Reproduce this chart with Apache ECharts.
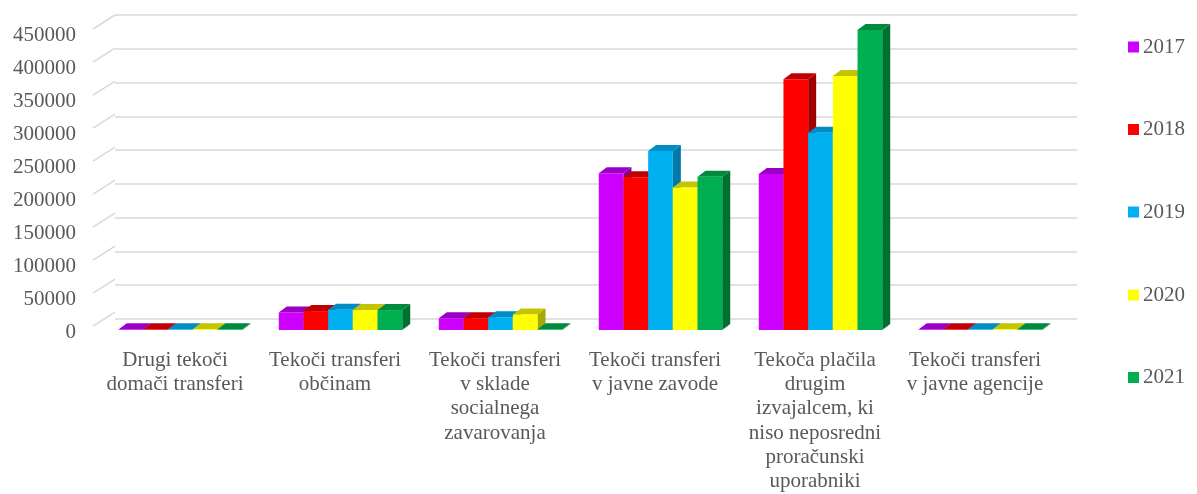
<!DOCTYPE html>
<html>
<head>
<meta charset="utf-8">
<script src="https://cdn.jsdelivr.net/npm/echarts@6/dist/echarts.min.js"></script>
<style>html,body{margin:0;padding:0;background:#fff;}#c{width:1197px;height:494px;}</style>
</head>
<body>
<div id="c"></div>
<script>
const categories = [
  "Drugi tekoči\ndomači transferi",
  "Tekoči transferi\nobčinam",
  "Tekoči transferi\nv sklade\nsocialnega\nzavarovanja",
  "Tekoči transferi\nv javne zavode",
  "Tekoča plačila\ndrugim\nizvajalcem, ki\nniso neposredni\nproračunski\nuporabniki",
  "Tekoči transferi\nv javne agencije"
];
const years = ["2017", "2018", "2019", "2020", "2021"];
const v2017 = [1000, 26000, 17500, 232000, 231000, 1000];
const v2018 = [1000, 28000, 17500, 226000, 371000, 1000];
const v2019 = [1000, 30000, 19000, 265000, 292000, 1000];
const v2020 = [1000, 29500, 23000, 211000, 376000, 1000];
const v2021 = [1000, 29500, 1000, 227000, 444000, 1000];
const seriesValues = [v2017, v2018, v2019, v2020, v2021];
const yTicks = [0, 50000, 100000, 150000, 200000, 250000, 300000, 350000, 400000, 450000];

const frontColors = ["#CC00FF", "#FF0000", "#00B0F0", "#FFFF00", "#00B050"];
const topColors = ["#9A00C4", "#C00000", "#008CC4", "#C4C400", "#008A3E"];
const sideColors = ["#8000A8", "#A00000", "#0078A8", "#A8A800", "#007030"];

const FONT = "'Times New Roman', 'Liberation Serif', serif";
const TXT = "#595959";
const GRIDC = "#D9D9D9";

function barSeries(i) {
  return {
    type: 'custom', name: years[i], xAxisIndex: 2, yAxisIndex: 2,
    itemStyle: {color: frontColors[i]},
    data: seriesValues[i].map((v, k) => [k, v]),
    encode: {x: 0, y: 1},
    renderItem: function (params, api) {
      const cat = api.value(0), v = api.value(1);
      const top = api.coord([cat, v]);
      const base = api.coord([cat, 0]);
      const band = api.size([1, 0])[0];
      const w = band * 0.1543;
      const x0 = top[0] - 2.5 * w + i * w;
      const x1 = x0 + w;
      const yt = top[1], yb = base[1];
      const dx = 8, dy = -6;
      return {type: 'group', children: [
        {type: 'polygon', shape: {points: [[x1, yb], [x1 + dx, yb + dy], [x1 + dx, yt + dy], [x1, yt]]}, style: {fill: sideColors[i]}},
        {type: 'polygon', shape: {points: [[x0, yt], [x0 + dx, yt + dy], [x1 + dx, yt + dy], [x1, yt]]}, style: {fill: topColors[i]}},
        {type: 'rect', shape: {x: x0, y: yt, width: w, height: yb - yt}, style: {fill: frontColors[i]}}
      ]};
    }
  };
}

const legendCenters = [47, 129.5, 212, 295, 377.5];
const legends = years.map((y, i) => ({
  data: [y], left: 1128, top: legendCenters[i] - 11, orient: 'vertical', padding: 0,
  icon: 'rect', itemWidth: 11, itemHeight: 11, selectedMode: false,
  textStyle: {fontFamily: FONT, fontSize: 21, color: TXT, lineHeight: 22, padding: [0, 0, 0, -1]}
}));

const option = {
  animation: false,
  backgroundColor: '#fff',
  legend: legends,
  grid: [
    {left: 115, right: 120, top: 15, bottom: 175},
    {left: 95, right: 142, top: 29, bottom: 161},
    {left: 100.5, right: 136.5, top: 26, bottom: 164}
  ],
  xAxis: [
    {gridIndex: 0, type: 'category', data: categories, show: false},
    {gridIndex: 1, type: 'category', data: categories, axisLine: {show: false}, axisTick: {show: false},
     axisLabel: {interval: 0, margin: 22, fontFamily: FONT, fontSize: 21, color: TXT, lineHeight: 24.3, align: 'center'}},
    {gridIndex: 2, type: 'category', data: categories, show: false}
  ],
  yAxis: [
    {gridIndex: 0, type: 'value', min: 0, max: 450000, interval: 50000,
     axisLine: {show: false}, axisTick: {show: false}, axisLabel: {show: false},
     splitLine: {show: true, lineStyle: {color: GRIDC, width: 1.5}}},
    {gridIndex: 1, type: 'value', min: 0, max: 450000, interval: 50000,
     axisLine: {show: false}, axisTick: {show: false}, splitLine: {show: false},
     axisLabel: {margin: 19, fontFamily: FONT, fontSize: 21, color: TXT, verticalAlign: 'top', lineHeight: 21, padding: [-4, 0, 0, 0],
       formatter: function (v) { return String(v); }}},
    {gridIndex: 2, type: 'value', min: 0, max: 450000, show: false}
  ],
  series: [
    {
      type: 'custom', xAxisIndex: 1, yAxisIndex: 1, silent: true,
      data: yTicks.map(v => [0, v]), encode: {x: 0, y: 1},
      renderItem: function (params, api) {
        const p = api.coord([0, api.value(1)]);
        const x = params.coordSys.x - 2;
        return {type: 'line', shape: {x1: x, y1: p[1], x2: x + 22, y2: p[1] - 14},
          style: {stroke: GRIDC, lineWidth: 1.5}};
      }
    }
  ].concat(years.map((y, i) => barSeries(i)))
};
const chart = echarts.init(document.getElementById('c'), null, {renderer: 'canvas'});
chart.setOption(option);
</script>
</body>
</html>
